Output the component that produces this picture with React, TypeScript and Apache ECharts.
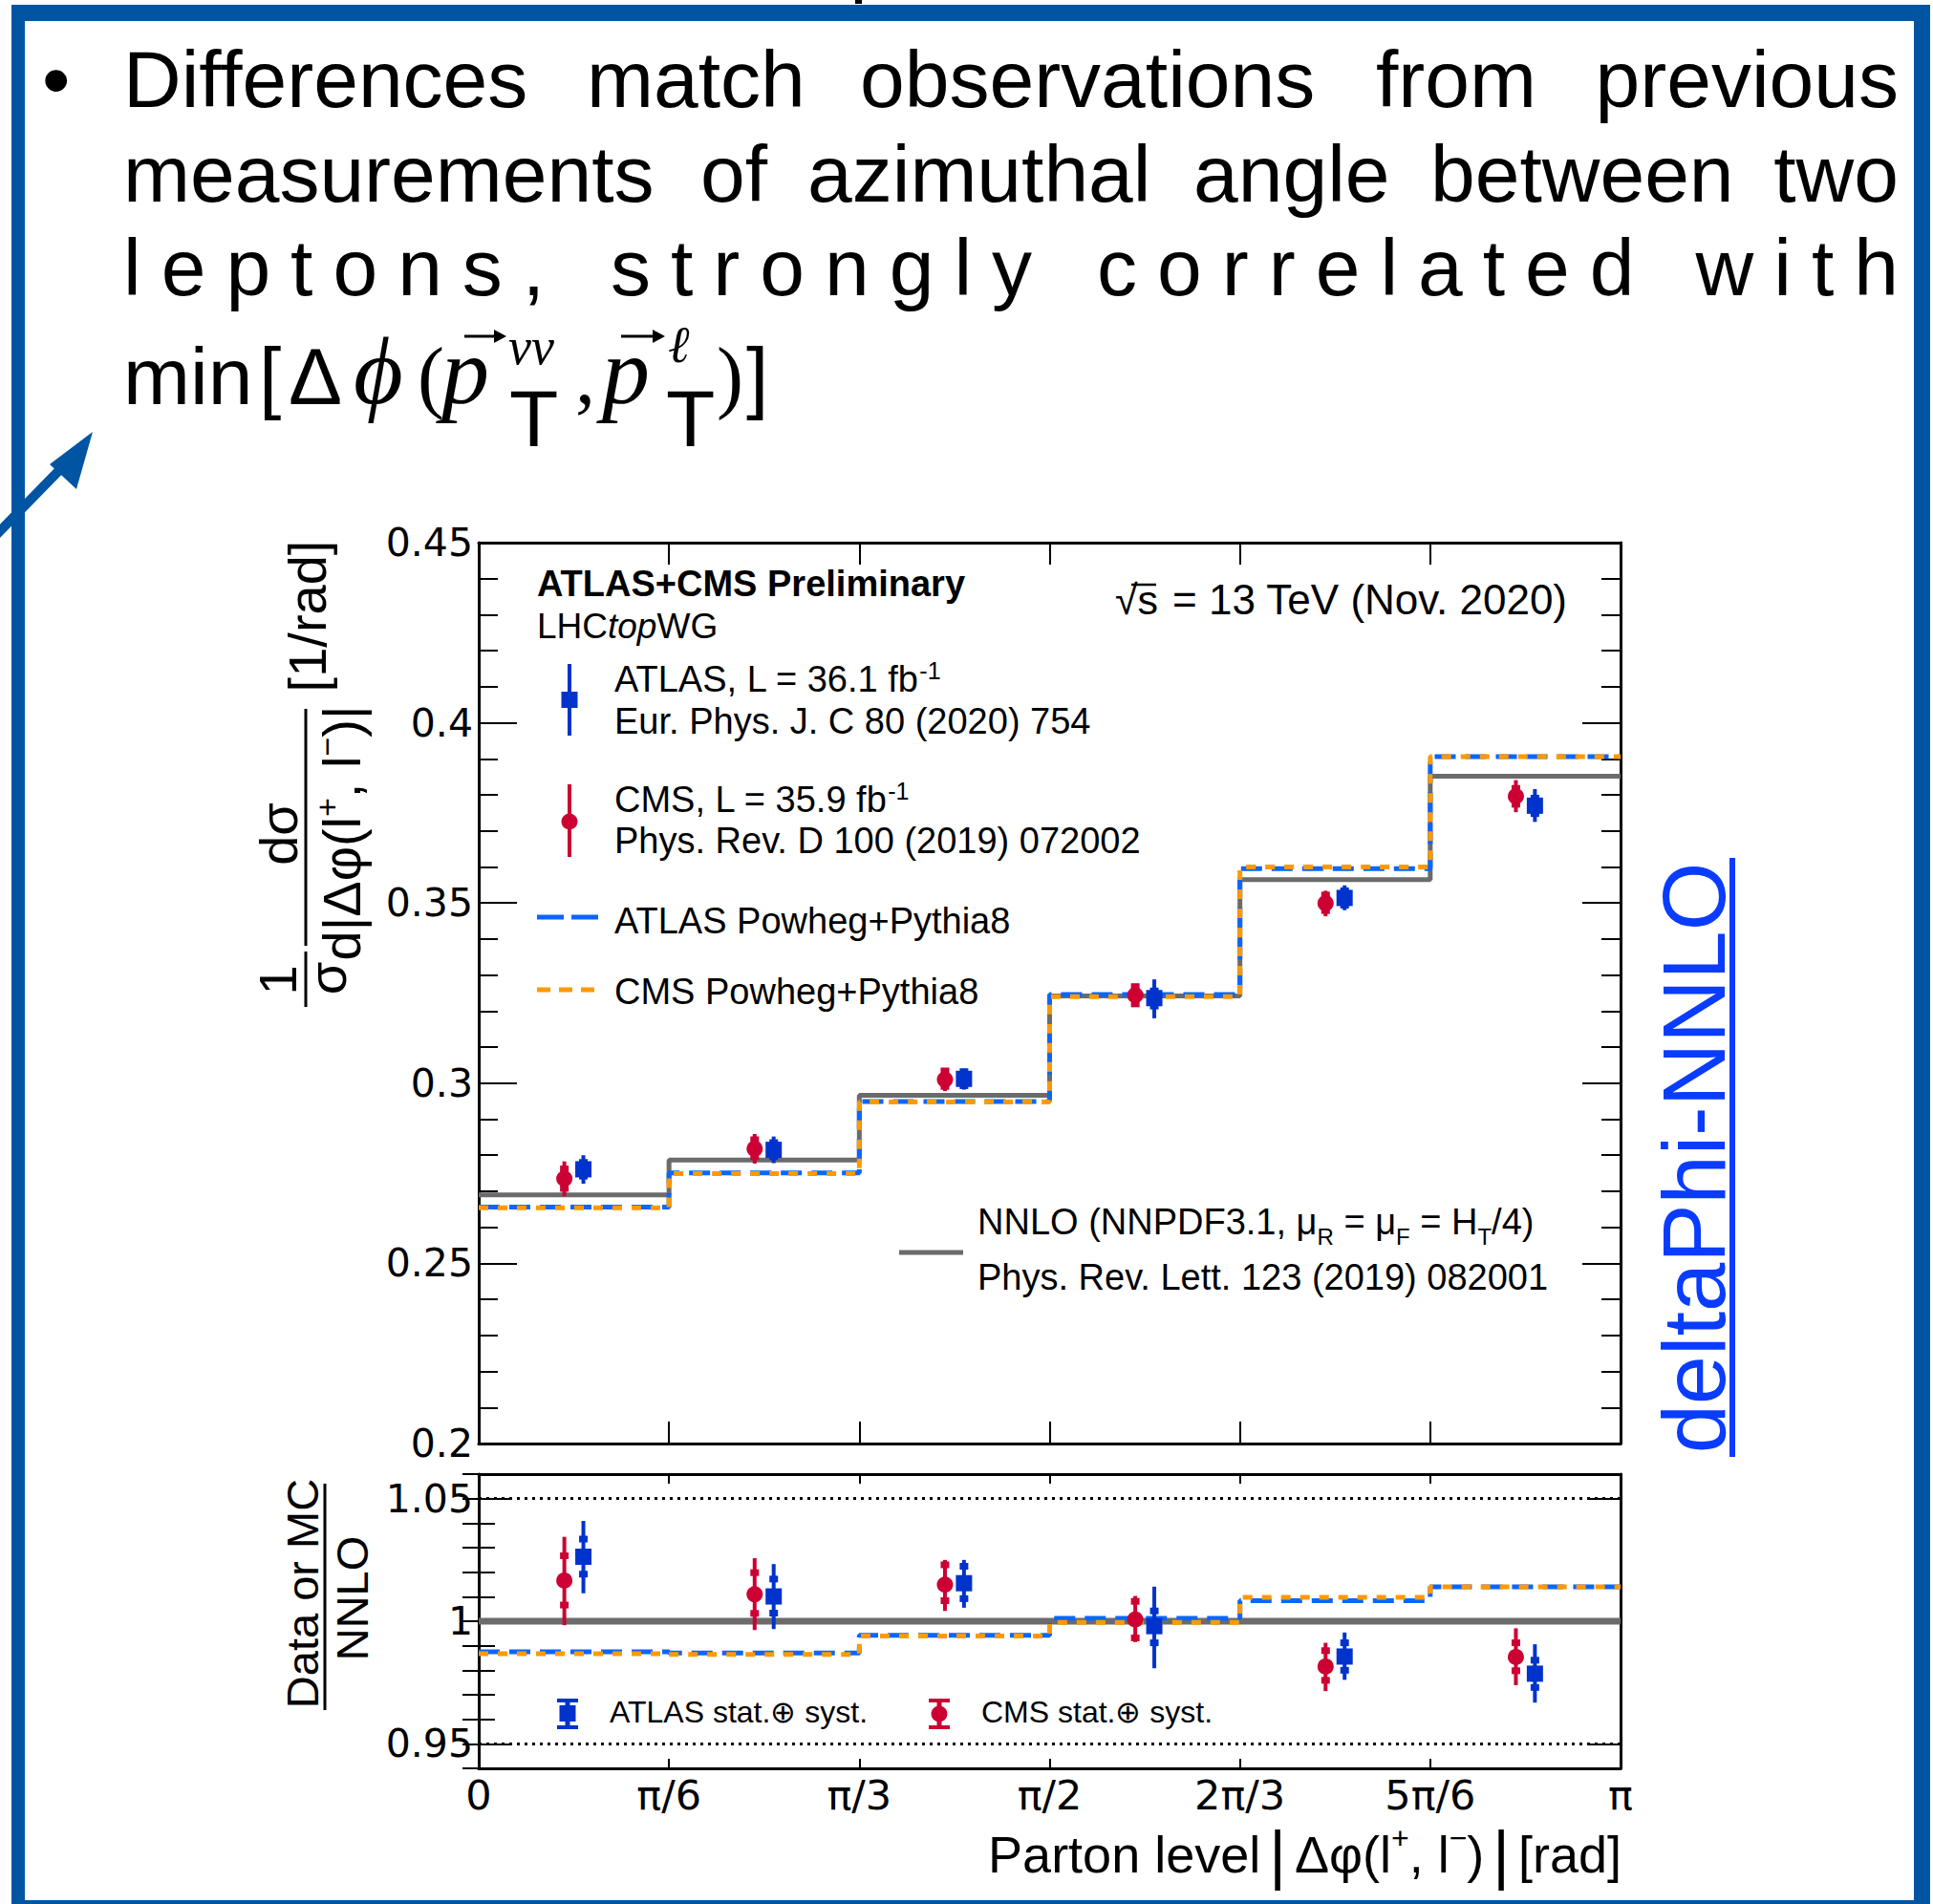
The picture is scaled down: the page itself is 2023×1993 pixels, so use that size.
import React, { useEffect, useRef } from 'react';
import * as echarts from 'echarts';

// ---------------- data ----------------
// x axis expressed in units of pi/6 (one bin = pi/6 rad)
const binEdges = [0, 1, 2, 3, 4, 5, 6];
const binCenters = [0.5, 1.5, 2.5, 3.5, 4.5, 5.5];
const xTickLabels = ['0', 'π/6', 'π/3', 'π/2', '2π/3', '5π/6', 'π'];
const mainYTicks = [0.2, 0.25, 0.3, 0.35, 0.4, 0.45];
const mainYLabels = ['0.2', '0.25', '0.3', '0.35', '0.4', '0.45'];
const ratioYTicks = [0.95, 1, 1.05];
const ratioYLabels = ['0.95', '1', '1.05'];
const ratioGuides = [1.05, 0.95];

// upper panel
const nnlo = [0.2690, 0.2787, 0.2966, 0.3242, 0.3565, 0.3852];
const atlasMC = [0.2656, 0.2751, 0.2949, 0.3246, 0.3595, 0.3906];
const cmsMC = [0.2654, 0.2749, 0.2948, 0.3240, 0.3600, 0.3906];

const atlasData = [0.2761, 0.2815, 0.3012, 0.3236, 0.3514, 0.3770];
const atlasTotUp = [0.0039, 0.0037, 0.0028, 0.0052, 0.0035, 0.0046];
const atlasTotDn = [0.0040, 0.0037, 0.0030, 0.0056, 0.0034, 0.0045];
const atlasStatUp = [0.0019, 0.0020, 0.0020, 0.0020, 0.0020, 0.0021];
const atlasStatDn = [0.0019, 0.0019, 0.0019, 0.0022, 0.0020, 0.0022];

const cmsData = [0.2735, 0.2818, 0.3010, 0.3244, 0.3499, 0.3796];
const cmsTotUp = [0.0048, 0.0041, 0.0030, 0.0031, 0.0035, 0.0045];
const cmsTotDn = [0.0049, 0.0041, 0.0032, 0.0030, 0.0036, 0.0044];
const cmsStatUp = [0.0027, 0.0025, 0.0024, 0.0024, 0.0023, 0.0022];
const cmsStatDn = [0.0027, 0.0022, 0.0019, 0.0024, 0.0020, 0.0022];

// ratio panel
const nnloRatio = [1, 1, 1, 1, 1, 1];
const atlasMCRatio = [0.9875, 0.9870, 0.9943, 1.0012, 1.0084, 1.0140];
const cmsMCRatio = [0.9868, 0.9865, 0.9940, 0.9995, 1.0097, 1.0140];

const atlasRatio = [1.0263, 1.0101, 1.0155, 0.9980, 0.9856, 0.9786];
const atlasRatioTotHi = [1.0409, 1.0233, 1.0250, 1.0141, 0.9954, 0.9906];
const atlasRatioTotLo = [1.0114, 0.9968, 1.0055, 0.9808, 0.9761, 0.9668];
const atlasRatioStatHi = [1.0335, 1.0172, 1.0224, 1.0042, 0.9912, 0.9841];
const atlasRatioStatLo = [1.0192, 1.0033, 1.0092, 0.9912, 0.9800, 0.9730];

const cmsRatio = [1.0166, 1.0110, 1.0149, 1.0007, 0.9815, 0.9854];
const cmsRatioTotHi = [1.0344, 1.0257, 1.0250, 1.0103, 0.9912, 0.9971];
const cmsRatioTotLo = [0.9984, 0.9964, 1.0042, 0.9915, 0.9715, 0.9739];
const cmsRatioStatHi = [1.0267, 1.0198, 1.0230, 1.0081, 0.9880, 0.9912];
const cmsRatioStatLo = [1.0066, 1.0032, 1.0084, 0.9932, 0.9759, 0.9798];

// ---------------- styling ----------------
const W = 2023;
const H = 1993;
const FONT = '"Liberation Sans", Arial, Helvetica, sans-serif';
const TICKFONT = '"DejaVu Sans", "Liberation Sans", sans-serif';
const SERIF = '"Liberation Serif", "DejaVu Serif", serif';
const BLUE_DATA = '#0033cc';
const RED_DATA = '#cc0033';
const BLUE_MC = '#0a66ff';
const ORANGE_MC = '#ff9900';
const GRAY = '#6b6b6b';
const SLIDE_BLUE = '#0055a2';
const LINK_BLUE = '#0a3cff';
const POINT_SHIFT = 0.05;
const SP4 = '\u2005'; // four-per-em space used as letter spacing
const SP6 = '\u2006'; // six-per-em space

const stepData = (vals: number[]) => binEdges.map((e, i) => [e, vals[Math.min(i, vals.length - 1)]]);

const lookup = (ticks: number[], labels: string[]) => (v: number) => {
  const k = ticks.findIndex((t) => Math.abs(t - v) < 1e-6);
  return k >= 0 ? labels[k] : '';
};

const errRender = (shape: 'circle' | 'square', color: string, msize: number, lw: number, capW: number, capH: number) =>
  (params: any, api: any) => {
    const x = api.value(0);
    const c = api.coord([x, api.value(1)]);
    const lo = api.coord([x, api.value(2)]);
    const hi = api.coord([x, api.value(3)]);
    const slo = api.coord([x, api.value(4)]);
    const shi = api.coord([x, api.value(5)]);
    const children: any[] = [
      { type: 'line', shape: { x1: c[0], y1: hi[1], x2: c[0], y2: lo[1] }, style: { stroke: color, lineWidth: lw } },
      { type: 'rect', shape: { x: c[0] - capW / 2, y: shi[1] - capH / 2, width: capW, height: capH }, style: { fill: color } },
      { type: 'rect', shape: { x: c[0] - capW / 2, y: slo[1] - capH / 2, width: capW, height: capH }, style: { fill: color } },
    ];
    if (shape === 'circle') {
      children.push({ type: 'circle', shape: { cx: c[0], cy: c[1], r: msize / 2 }, style: { fill: color } });
    } else {
      children.push({ type: 'rect', shape: { x: c[0] - msize / 2, y: c[1] - msize / 2, width: msize, height: msize }, style: { fill: color } });
    }
    return { type: 'group', children };
  };

const txt = (text: string, x: number, y: number, size: number, o: any = {}) => ({
  type: 'text',
  x,
  y,
  rotation: o.rotation || 0,
  z: 100,
  style: {
    text,
    fontFamily: o.family || FONT,
    fontSize: size,
    fontWeight: o.weight || 'normal',
    fontStyle: o.italic ? 'italic' : 'normal',
    fill: o.color || '#000',
    align: o.align || 'left',
    verticalAlign: 'middle',
    lineHeight: o.lineHeight,
    rich: o.rich,
  },
});

const rect = (x: number, y: number, w: number, h: number, fill: string) => ({
  type: 'rect', z: 100, shape: { x, y, width: w, height: h }, style: { fill },
});
const seg = (x1: number, y1: number, x2: number, y2: number, stroke: string, lw: number, dash?: number[]) => ({
  type: 'line', z: 100, shape: { x1, y1, x2, y2 }, style: { stroke, lineWidth: lw, lineDash: dash || null },
});
// small vector arrow (for the \vec accent)
const vecArrow = (x0: number, x1: number, y: number) => [
  seg(x0, y, x1 - 6, y, '#000', 3),
  { type: 'polygon', z: 100, shape: { points: [[x1, y], [x1 - 13, y - 7], [x1 - 13, y + 7]] }, style: { fill: '#000' } },
];

const spaced = (word: string) => Array.from(word).join(SP4);

function buildOption(): any {
  const tickLine = { color: '#000', width: 2 };
  const axisLine = { show: true, onZero: false, lineStyle: { color: '#000', width: 3 } };
  const xAxis = (gridIndex: number, position: string, len: number, labels: boolean) => ({
    type: 'value', gridIndex, position, min: 0, max: 6, interval: 1,
    axisLine,
    axisTick: { show: true, inside: true, length: len, lineStyle: tickLine },
    axisLabel: labels
      ? { show: true, formatter: lookup(binEdges, xTickLabels), fontFamily: TICKFONT, fontSize: 43, color: '#000', margin: 6, showMinLabel: true, showMaxLabel: true }
      : { show: false },
    splitLine: { show: false },
  });
  const yLabel = (ticks: number[], labels: string[]) => ({
    show: true, formatter: lookup(ticks, labels), fontFamily: TICKFONT, fontSize: 41, color: '#000', margin: 6, showMinLabel: true, showMaxLabel: true,
  });

  const yAxis = [
    {
      type: 'value', gridIndex: 0, position: 'left', min: 0.2, max: 0.45, interval: 0.05,
      axisLine, axisTick: { show: true, inside: true, length: 40, lineStyle: tickLine },
      minorTick: { show: true, splitNumber: 5, length: 20, lineStyle: tickLine },
      axisLabel: yLabel(mainYTicks, mainYLabels), splitLine: { show: false },
    },
    {
      type: 'value', gridIndex: 0, position: 'right', min: 0.2, max: 0.45, interval: 0.05,
      axisLine, axisTick: { show: true, inside: true, length: 40, lineStyle: tickLine },
      minorTick: { show: true, splitNumber: 5, length: 20, lineStyle: tickLine },
      axisLabel: { show: false }, splitLine: { show: false },
    },
    {
      type: 'value', gridIndex: 1, position: 'left', min: 0.94, max: 1.06,
      axisLine,
      axisTick: { show: true, inside: true, length: 34, lineStyle: tickLine, customValues: ratioYTicks },
      axisLabel: { ...yLabel(ratioYTicks, ratioYLabels), customValues: ratioYTicks },
      splitLine: { show: false },
    },
    {
      type: 'value', gridIndex: 1, position: 'right', min: 0.94, max: 1.06,
      axisLine,
      axisTick: { show: true, inside: true, length: 34, lineStyle: tickLine, customValues: ratioYTicks },
      axisLabel: { show: false }, splitLine: { show: false },
    },
    {
      type: 'value', gridIndex: 1, position: 'left', min: 0.94, max: 1.06, interval: 0.01,
      axisLine: { show: false }, axisTick: { show: true, inside: true, length: 17, lineStyle: tickLine },
      axisLabel: { show: false }, splitLine: { show: false },
    },
    {
      type: 'value', gridIndex: 1, position: 'right', min: 0.94, max: 1.06, interval: 0.01,
      axisLine: { show: false }, axisTick: { show: true, inside: true, length: 17, lineStyle: tickLine },
      axisLabel: { show: false }, splitLine: { show: false },
    },
  ];

  const step = (name: string, vals: number[], xi: number, yi: number, color: string, width: number, dash: any, offset = 0, z = 2) => ({
    name, type: 'line', xAxisIndex: xi, yAxisIndex: yi, step: 'end', symbol: 'none', z,
    data: stepData(vals),
    lineStyle: { color, width, type: dash, dashOffset: offset, cap: 'butt' },
    silent: true,
  });

  const errSeries = (name: string, xi: number, yi: number, rows: number[][], shape: 'circle' | 'square', color: string) => ({
    name, type: 'custom', xAxisIndex: xi, yAxisIndex: yi, z: 10,
    renderItem: errRender(shape, color, 17, 4, 9, 7),
    encode: { x: 0, y: 1 },
    data: rows,
  });

  const mainRows = (xs: number, v: number[], tu: number[], td: number[], su: number[], sd: number[]) =>
    binCenters.map((b, i) => [b + xs, v[i], v[i] - td[i], v[i] + tu[i], v[i] - sd[i], v[i] + su[i]]);
  const ratioRows = (xs: number, v: number[], lo: number[], hi: number[], slo: number[], shi: number[]) =>
    binCenters.map((b, i) => [b + xs, v[i], lo[i], hi[i], slo[i], shi[i]]);

  const series = [
    step('NNLO', nnlo, 0, 0, GRAY, 5, 'solid', 0, 1),
    step('ATLAS Powheg+Pythia8', atlasMC, 0, 0, BLUE_MC, 5, [22, 10], 0, 2),
    step('CMS Powheg+Pythia8', cmsMC, 0, 0, ORANGE_MC, 5, [10, 10], 0, 3),
    {
      ...step('NNLO ratio', nnloRatio, 2, 2, GRAY, 7, 'solid', 0, 1),
      markLine: {
        silent: true, symbol: 'none', label: { show: false },
        lineStyle: { color: '#000', width: 3, type: [3, 5] },
        data: ratioGuides.map((gv) => ({ yAxis: gv })),
      },
    },
    step('ATLAS MC ratio', atlasMCRatio, 2, 2, BLUE_MC, 5, [22, 10], 0, 2),
    step('CMS MC ratio', cmsMCRatio, 2, 2, ORANGE_MC, 5, [10, 10], 0, 3),
    errSeries('CMS', 0, 0, mainRows(-POINT_SHIFT, cmsData, cmsTotUp, cmsTotDn, cmsStatUp, cmsStatDn), 'circle', RED_DATA),
    errSeries('ATLAS', 0, 0, mainRows(POINT_SHIFT, atlasData, atlasTotUp, atlasTotDn, atlasStatUp, atlasStatDn), 'square', BLUE_DATA),
    errSeries('CMS ratio', 2, 2, ratioRows(-POINT_SHIFT, cmsRatio, cmsRatioTotLo, cmsRatioTotHi, cmsRatioStatLo, cmsRatioStatHi), 'circle', RED_DATA),
    errSeries('ATLAS ratio', 2, 2, ratioRows(POINT_SHIFT, atlasRatio, atlasRatioTotLo, atlasRatioTotHi, atlasRatioStatLo, atlasRatioStatHi), 'square', BLUE_DATA),
  ];

  // -------- graphic: slide frame, bullet text, legends, titles --------
  const R = Math.PI / 2;
  const g: any[] = [];
  // slide border
  g.push(rect(12, 5, 2008, 17, SLIDE_BLUE));
  g.push(rect(12, 5, 14, 1988, SLIDE_BLUE));
  g.push(rect(2003, 5, 17, 1988, SLIDE_BLUE));
  g.push(rect(12, 1989, 2008, 4, SLIDE_BLUE));
  g.push(rect(895, 0, 7, 4, '#000'));
  // arrow
  g.push(seg(-6, 562, 72, 482, SLIDE_BLUE, 10));
  g.push({ type: 'polygon', z: 100, shape: { points: [[97, 452], [52, 486], [80, 512]] }, style: { fill: SLIDE_BLUE } });

  // bullet text
  const BF = 84;
  const mid = (baseline: number, f: number) => baseline - 0.35 * f;
  g.push(txt('•', 44, mid(112, BF), BF));
  const line1: [string, number][] = [['Differences', 129], ['match', 614], ['observations', 900], ['from', 1440]];
  line1.forEach(([w, x]) => g.push(txt(w, x, mid(112, BF), BF)));
  g.push(txt('previous', 1987, mid(112, BF), BF, { align: 'right' }));
  const line2: [string, number][] = [['measurements', 129], ['of', 733], ['azimuthal', 845], ['angle', 1249], ['between', 1497]];
  line2.forEach(([w, x]) => g.push(txt(w, x, mid(211, BF), BF)));
  g.push(txt('two', 1987, mid(211, BF), BF, { align: 'right' }));
  const line3: [string, number][] = [['leptons,', 129], ['strongly', 639], ['correlated', 1148]];
  line3.forEach(([w, x]) => g.push(txt(spaced(w), x, mid(309, BF), BF)));
  g.push(txt(spaced('with'), 1987, mid(309, BF), BF, { align: 'right' }));
  // line 4 math: min[Δϕ(p_T^νν, p_T^ℓ)]
  const b4 = 423;
  g.push(txt('min', 129, mid(b4, BF), BF));
  g.push(txt('[', 271, mid(b4, BF), BF));
  g.push(txt('Δ', 302, mid(b4, BF), BF));
  g.push(txt('ϕ', 370, mid(b4, 100), 100, { family: SERIF, italic: true }));
  g.push(txt('(', 437, mid(b4, BF), BF, { family: SERIF }));
  g.push(txt('p', 462, mid(b4, 100), 100, { family: SERIF, italic: true }));
  g.push(...vecArrow(486, 530, 352));
  g.push(txt('νν', 532, 363, 54, { family: SERIF, italic: true }));
  g.push(txt('T', 533, mid(467, BF), BF));
  g.push(txt(',', 602, mid(b4, BF), BF, { family: SERIF }));
  g.push(txt('p', 630, mid(b4, 100), 100, { family: SERIF, italic: true }));
  g.push(...vecArrow(650, 696, 352));
  g.push(txt('ℓ', 699, 361, 54, { family: SERIF, italic: true }));
  g.push(txt('T', 697, mid(467, BF), BF));
  g.push(txt(')', 750, mid(b4, BF), BF, { family: SERIF }));
  g.push(txt(']', 781, mid(b4, BF), BF));

  // hyperlink text at the right
  g.push(txt('deltaPhi-NNLO', 1773, 1212, 92, { rotation: R, align: 'center', color: LINK_BLUE }));
  g.push(rect(1810, 898, 6, 627, LINK_BLUE));

  // upper-panel legend and labels
  const LF = 38;
  g.push(txt('ATLAS+CMS Preliminary', 562, mid(624, 38), 38, { weight: 'bold', lineHeight: 36 }));
  g.push(txt('LHC{i|top}WG', 562, mid(668, 37), 37, { lineHeight: 36, rich: { i: { fontFamily: FONT, fontSize: 37, fontStyle: 'italic', lineHeight: 36 } } }));
  g.push(txt('√s', 1167, mid(643, 43), 43));
  g.push(seg(1184, 612, 1210, 612, '#000', 2.5));
  g.push(txt('= 13 TeV (Nov. 2020)', 1640, mid(643, 44), 44, { align: 'right' }));

  const supRich = { sup: { fontFamily: FONT, fontSize: 25, lineHeight: 22, verticalAlign: 'top' } };
  g.push(txt('ATLAS, L = 36.1 fb{sup|-1}', 643, mid(724, LF), LF, { rich: supRich, lineHeight: 42 }));
  g.push(txt('Eur. Phys. J. C 80 (2020) 754', 643, mid(768, LF), LF, { lineHeight: 40 }));
  g.push(txt('CMS, L = 35.9 fb{sup|-1}', 643, mid(850, LF), LF, { rich: supRich, lineHeight: 42 }));
  g.push(txt('Phys. Rev. D 100 (2019) 072002', 643, mid(893, LF), LF, { lineHeight: 40 }));
  g.push(txt('ATLAS Powheg+Pythia8', 643, mid(977, LF), LF));
  g.push(txt('CMS Powheg+Pythia8', 643, mid(1051, LF), LF));
  const subRich = { sub: { fontFamily: FONT, fontSize: 24, lineHeight: 8, verticalAlign: 'bottom' } };
  g.push(txt('NNLO (NNPDF3.1, μ{sub|R} = μ{sub|F} = H{sub|T}/4)', 1023, mid(1292, LF), LF, { rich: subRich, lineHeight: 56 }));
  g.push(txt('Phys. Rev. Lett. 123 (2019) 082001', 1023, mid(1350, LF), LF, { lineHeight: 40 }));

  // legend symbols (upper)
  g.push(seg(596, 695, 596, 770, BLUE_DATA, 4));
  g.push(rect(587.5, 724, 17, 17, BLUE_DATA));
  g.push(seg(596, 821, 596, 897, RED_DATA, 4));
  g.push({ type: 'circle', z: 100, shape: { cx: 596, cy: 860, r: 8.5 }, style: { fill: RED_DATA } });
  g.push(seg(562, 960, 627, 960, BLUE_MC, 5, [28, 8]));
  g.push(seg(562, 1036, 627, 1036, ORANGE_MC, 5, [14, 9]));
  g.push(seg(941, 1311, 1008, 1311, GRAY, 5));

  // ratio legend
  const RF = 32;
  g.push(rect(583, 1778, 22, 4, BLUE_DATA));
  g.push(rect(583, 1806, 22, 4, BLUE_DATA));
  g.push(rect(591.5, 1778, 5, 32, BLUE_DATA));
  g.push(rect(585.5, 1785, 17, 17, BLUE_DATA));
  g.push(txt('ATLAS stat.⊕ syst.', 638, mid(1803, RF), RF));
  g.push(rect(972, 1778, 22, 4, RED_DATA));
  g.push(rect(972, 1806, 22, 4, RED_DATA));
  g.push(rect(980.5, 1778, 5, 32, RED_DATA));
  g.push({ type: 'circle', z: 100, shape: { cx: 983, cy: 1794, r: 8.5 }, style: { fill: RED_DATA } });
  g.push(txt('CMS stat.⊕ syst.', 1027, mid(1803, RF), RF));

  // axis titles
  const TF = 56;
  const supT = { sup: { fontFamily: FONT, fontSize: 34, lineHeight: 28, verticalAlign: 'top' } };
  g.push(txt('1', 290, 1026, TF, { rotation: R, align: 'center' }));
  g.push(txt('σ', 342, 1024, TF, { rotation: R, align: 'center' }));
  g.push(seg(320, 996, 320, 1054, '#000', 3));
  g.push(txt('dσ', 291, 873, TF, { rotation: R, align: 'center' }));
  g.push(seg(320, 742, 320, 990, '#000', 3));
  g.push(txt('d|Δφ(l{sup|+}, l{sup|−})|', 357, 872, TF, { rotation: R, align: 'center', rich: supT, lineHeight: 64 }));
  g.push(txt('[1/rad]', 321, 645, TF, { rotation: R, align: 'center' }));

  g.push(txt('Data or MC', 316, 1668, 47, { rotation: R, align: 'center' }));
  g.push(seg(340, 1553, 340, 1790, '#000', 3));
  g.push(txt('NNLO', 368, 1673, 47, { rotation: R, align: 'center' }));

  const xRich = {
    sup: { fontFamily: FONT, fontSize: 32, lineHeight: 28, verticalAlign: 'top' },
    bar: { fontFamily: FONT, fontSize: 68, lineHeight: 66 },
  };
  g.push(txt(`Parton level${SP6}{bar||}${SP6}Δφ(l{sup|+}, l{sup|−})${SP6}{bar||}${SP6}[rad]`, 1697, mid(1960, 54), 54, { align: 'right', rich: xRich, lineHeight: 66 }));

  return {
    animation: false,
    backgroundColor: '#fff',
    grid: [
      { left: 501, top: 568, width: 1195, height: 943 },
      { left: 501, top: 1543, width: 1195, height: 308 },
    ],
    xAxis: [xAxis(0, 'bottom', 23, false), xAxis(0, 'top', 23, false), xAxis(1, 'bottom', 10, true), xAxis(1, 'top', 10, false)],
    yAxis,
    series,
    graphic: { elements: g },
  };
}

export default function App() {
  const ref = useRef<HTMLDivElement>(null);
  useEffect(() => {
    const chart = echarts.init(ref.current!, null, { renderer: 'svg', width: W, height: H });
    chart.setOption(buildOption());
    return () => chart.dispose();
  }, []);
  return <div ref={ref} style={{ position: 'fixed', left: 0, top: 0, width: W, height: H, background: '#fff' }} />;
}
